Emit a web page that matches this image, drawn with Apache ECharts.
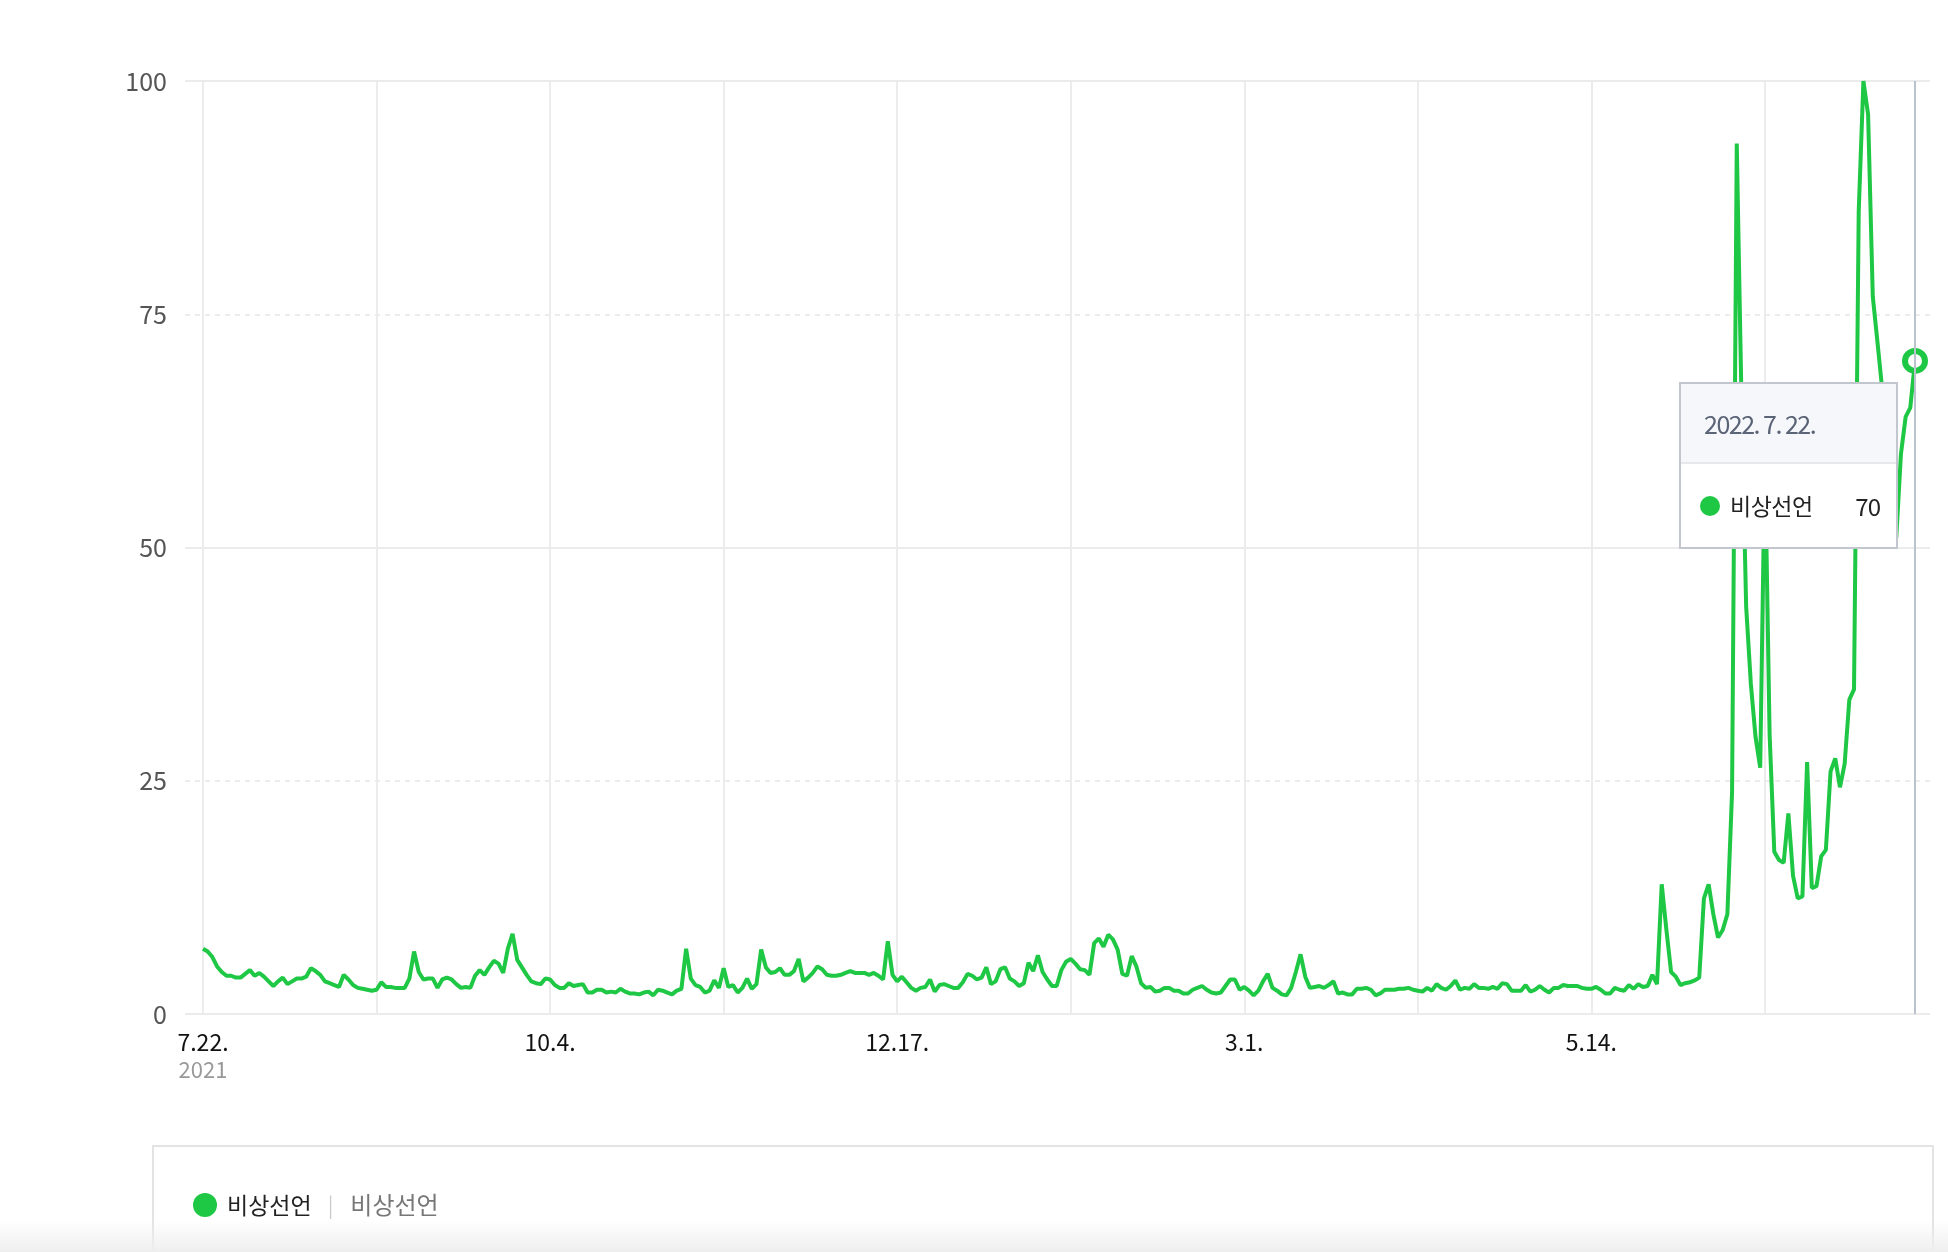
<!DOCTYPE html>
<html>
<head>
<meta charset="utf-8">
<title>비상선언</title>
<script src="https://cdn.jsdelivr.net/npm/echarts@6/dist/echarts.min.js"></script>
<style>
  html, body { margin: 0; padding: 0; background: #fff; }
  #chart { width: 1948px; height: 1252px; }
</style>
</head>
<body>
<div id="chart"></div>
<script>
const seriesName = '비상선언'
const startYear = 2021, startMonth = 7, startDay = 22
const yTicks = { min: 0, max: 100, step: 25 }
const labelEvery = 74   // one date label every 74 days
const gridEvery = 37    // vertical grid line every 37 days

// daily values (2021.7.22 ~ 2022.7.22)
const values1 = [
  7.0, 6.7, 6.1, 5.1, 4.5, 4.1, 4.1, 3.9, 3.9, 4.3,
  4.7, 4.1, 4.4, 4.0, 3.5, 3.0, 3.5, 3.9, 3.2, 3.5,
  3.8, 3.8, 4.0, 4.9, 4.6, 4.2, 3.5, 3.3, 3.1, 2.9,
  4.2, 3.7, 3.1, 2.8, 2.7, 2.6, 2.5, 2.6, 3.4, 2.9,
  2.9, 2.8, 2.8, 2.8, 3.8, 6.7, 4.5, 3.7, 3.8, 3.8,
  2.8, 3.7, 3.9, 3.7, 3.2, 2.8, 2.9, 2.8, 4.1, 4.7,
  4.2, 5.0, 5.7, 5.4, 4.4, 7.0, 8.6, 5.8, 5.0, 4.2,
  3.5, 3.3, 3.2, 3.8
]
const values2 = [
  3.7, 3.1, 2.8, 2.8, 3.3, 3.0,
  3.1, 3.2, 2.3, 2.3, 2.6, 2.6, 2.3, 2.4, 2.3, 2.7,
  2.4, 2.2, 2.2, 2.1, 2.3, 2.4, 2.0, 2.6, 2.5, 2.3,
  2.1, 2.5, 2.7, 7.0, 3.8, 3.1, 2.9, 2.3, 2.5, 3.6,
  2.8, 4.9, 2.9, 3.1, 2.3, 2.8, 3.8, 2.7, 3.2, 6.9,
  5.0, 4.4, 4.5, 4.9, 4.2, 4.2, 4.6, 5.9, 3.5, 3.9,
  4.4, 5.1, 4.8, 4.2, 4.1, 4.1, 4.2, 4.4, 4.6, 4.4,
  4.4, 4.4, 4.2, 4.4, 4.1, 3.7, 7.8, 4.2
]
const values3 = [
  3.5, 4.0,
  3.4, 2.8, 2.5, 2.8, 2.9, 3.7, 2.4, 3.1, 3.2, 3.0,
  2.8, 2.8, 3.4, 4.3, 4.1, 3.7, 3.9, 5.0, 3.2, 3.5,
  4.8, 5.0, 3.8, 3.5, 3.0, 3.3, 5.5, 4.6, 6.3, 4.5,
  3.7, 3.0, 3.0, 4.7, 5.6, 5.9, 5.4, 4.8, 4.7, 4.2,
  7.6, 8.1, 7.2, 8.5, 8.0, 6.9, 4.3, 4.1, 6.2, 5.1,
  3.3, 2.8, 2.9, 2.4, 2.5, 2.8, 2.8, 2.5, 2.5, 2.2,
  2.2, 2.6, 2.8, 3.0, 2.6, 2.3, 2.2, 2.3, 3.0, 3.7,
  3.7, 2.6
]
const values4 = [
  2.9, 2.5, 2.0, 2.5, 3.5, 4.3, 2.8, 2.5,
  2.1, 2.0, 2.8, 4.5, 6.4, 4.0, 2.8, 2.9, 3.0, 2.8,
  3.1, 3.5, 2.2, 2.3, 2.1, 2.1, 2.7, 2.7, 2.8, 2.6,
  2.0, 2.2, 2.6, 2.6, 2.6, 2.7, 2.7, 2.8, 2.6, 2.5,
  2.4, 2.8, 2.5, 3.2, 2.8, 2.6, 3.0, 3.6, 2.6, 2.8,
  2.7, 3.2, 2.8, 2.8, 2.7, 2.9, 2.7, 3.3, 3.2, 2.5,
  2.5, 2.5, 3.1, 2.4, 2.6, 3.0, 2.6, 2.3, 2.8, 2.8,
  3.1, 3.0, 3.0, 3.0, 2.8, 2.7
]
const values5 = [
  2.7, 2.9, 2.6, 2.2,
  2.2, 2.8, 2.6, 2.5, 3.1, 2.7, 3.2, 2.9, 3.0, 4.2,
  3.2, 13.9, 9.0, 4.5, 4.0, 3.1, 3.3, 3.4, 3.6, 3.9,
  12.4, 13.9, 10.7, 8.2, 9.0, 10.7, 23.8, 93.3, 66, 43.7,
  35.4, 29.7, 26.4, 60, 30, 17.4, 16.5, 16.2, 21.5, 14.8,
  12.4, 12.6, 27, 13.5, 13.7, 16.9, 17.6, 26.0, 27.4, 24.3,
  26.8, 33.7, 34.8, 86, 100, 96.4, 76.9, 72, 67, 62,
  56, 51, 60, 64, 65, 70
]
const values = [].concat(values1, values2, values3, values4, values5)

// one category per day
const dates = []
for (let i = 0; i < values.length; i++) {
  let d = new Date(startYear, startMonth - 1, startDay + i)
  dates.push(d.getFullYear() + '-' + (d.getMonth() + 1) + '-' + d.getDate())
}

const green = '#1ec744'
const font = "'Noto Sans CJK KR', 'Noto Sans', sans-serif"
const last = values.length - 1

const myChart = echarts.init(document.getElementById('chart'))

const option = {
  animation: false,
  color: [green],
  textStyle: { fontFamily: font },
  grid: [
    { left: 203, right: 33, top: 81, bottom: 238 },
    // wider grid only for the horizontal lines + y labels
    { left: 185, right: 18, top: 81, bottom: 238 }
  ],
  xAxis: [
    {
      type: 'category',
      gridIndex: 0,
      data: dates,
      boundaryGap: false,
      axisLine: { show: false },
      axisTick: { show: false },
      axisLabel: {
        interval: labelEvery - 1,
        margin: 14,
        formatter: function (v, i) {
          let p = v.split('-')
          let s = '{d|' + p[1] + '.' + p[2] + '.}'
          if (i === 0) s += '\n{y|' + p[0] + '}'
          return s
        },
        rich: {
          d: { color: '#111', fontSize: 23, lineHeight: 28, fontFamily: font },
          y: { color: '#999', fontSize: 22, lineHeight: 28, fontFamily: font }
        }
      },
      splitLine: {
        show: true,
        interval: gridEvery - 1,
        lineStyle: { color: '#ececec', width: 2 }
      }
    },
    { type: 'value', gridIndex: 1, show: false, min: 0, max: 1 }
  ],
  yAxis: [
    { type: 'value', gridIndex: 0, min: yTicks.min, max: yTicks.max, show: false },
    {
      type: 'value',
      gridIndex: 1,
      min: yTicks.min,
      max: yTicks.max,
      interval: yTicks.step,
      axisLine: { show: false },
      axisTick: { show: false },
      axisLabel: { margin: 18, color: '#555', fontSize: 25, fontFamily: font },
      splitLine: { lineStyle: { color: '#e6e6e6', width: 1.5, type: [5, 5] } }
    },
    {
      type: 'value',
      gridIndex: 1,
      min: yTicks.min,
      max: yTicks.max,
      interval: yTicks.step * 2,
      axisLine: { show: false },
      axisTick: { show: false },
      axisLabel: { show: false },
      splitLine: { lineStyle: { color: '#ebebeb', width: 2 } },
      z: 1
    }
  ],
  tooltip: {
    trigger: 'axis',
    triggerOn: 'none',
    alwaysShowContent: true,
    padding: 0,
    borderWidth: 0,
    backgroundColor: 'transparent',
    transitionDuration: 0,
    extraCssText: 'box-shadow:none;border-radius:0;',
    position: function () { return [1679, 382] },
    axisPointer: {
      type: 'line',
      lineStyle: { color: '#bac2ce', width: 2, type: 'solid' }
    },
    formatter: function (params) {
      let p = params.filter(x => x.seriesIndex === 0)[0]
      let d = p.axisValue.split('-')
      let dateText = d[0] + '. ' + d[1] + '. ' + d[2] + '.'
      return '<div style="width:219px;height:167px;box-sizing:border-box;border:2px solid #c2c7cf;background:#fff;font-family:' + font + '">' +
        '<div style="height:78px;line-height:78px;background:#f5f7fb;border-bottom:2px solid #e6e8ec;padding-left:23px;color:#5b6477;font-size:25px;letter-spacing:-1.5px">' + dateText + '</div>' +
        '<div style="height:83px;display:flex;align-items:center;padding:0 16px 0 19px;color:#222;font-size:23px">' +
        '<span style="display:inline-block;width:20px;height:20px;border-radius:50%;background:' + green + ';margin-right:10px"></span>' +
        '<span style="flex:1;letter-spacing:-0.5px">' + p.seriesName + '</span>' +
        '<span style="font-size:24px;letter-spacing:-1px">' + p.value + '</span>' +
        '</div></div>'
    }
  },
  legend: {
    data: [seriesName],
    left: 188,
    top: 1188,
    icon: 'circle',
    itemWidth: 24,
    itemHeight: 24,
    selectedMode: false,
    z: 4,
    formatter: function (name) {
      return '{a|' + name + '}{s||}{b|' + name + '}'
    },
    textStyle: {
      rich: {
        a: { color: '#222', fontSize: 23, padding: [0, 16, 0, 5], fontFamily: font },
        s: { color: '#ccc', fontSize: 21, padding: [0, 17, 0, 0], fontFamily: font },
        b: { color: '#777', fontSize: 24, fontFamily: font }
      }
    }
  },
  graphic: [
    {
      type: 'rect',
      left: 152,
      top: 1145,
      z: 0,
      shape: { width: 1780, height: 140 },
      style: { fill: '#fff', stroke: '#e3e3e3', lineWidth: 2 },
      silent: true
    },
    {
      type: 'rect',
      left: 0,
      top: 1220,
      z: 10,
      shape: { width: 1948, height: 32 },
      style: {
        fill: new echarts.graphic.LinearGradient(0, 0, 0, 1, [
          { offset: 0, color: 'rgba(240,240,240,0)' },
          { offset: 1, color: 'rgba(238,238,238,1)' }
        ])
      },
      silent: true
    }
  ],
  series: [
    {
      name: seriesName,
      type: 'line',
      xAxisIndex: 0,
      yAxisIndex: 0,
      data: values,
      symbol: 'none',
      lineStyle: { color: green, width: 4 },
      itemStyle: { color: green },
      emphasis: { disabled: true },
      z: 3
    },
    {
      // end point marker
      type: 'scatter',
      xAxisIndex: 0,
      yAxisIndex: 0,
      data: [[last, values[last]]],
      symbol: 'circle',
      symbolSize: 20,
      itemStyle: { color: '#fff', borderColor: green, borderWidth: 6, opacity: 1 },
      emphasis: { disabled: true },
      z: 5
    }
  ]
}

myChart.setOption(option)
myChart.dispatchAction({ type: 'showTip', seriesIndex: 0, dataIndex: last })
</script>
</body>
</html>
